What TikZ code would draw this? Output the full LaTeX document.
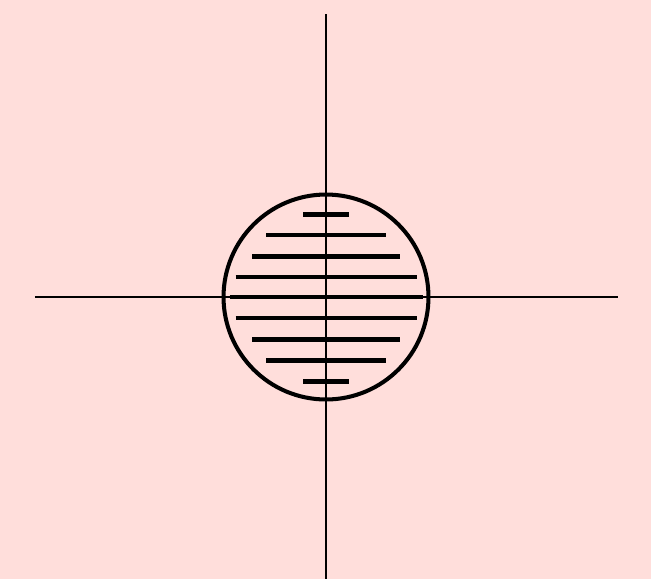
\documentclass[tikz,border=0pt]{standalone}
\usepackage{tikz}
\usepackage{xcolor}
\usetikzlibrary{positioning}
\definecolor{bgpink}{RGB}{255,222,219}

\begin{document}
\begin{tikzpicture}[x=0.02cm, y=0.02cm]
% Background
\fill[bgpink] (-326,-282) rectangle (325,297);
\useasboundingbox (-326,-282) rectangle (325,297);

% Axes
\coordinate (xl) at (-291,0);
\coordinate (xr) at (292,0);
\coordinate (yt) at (0,283);
\coordinate (yb) at (0,-282);
\draw[line width=1.3pt] (xl) -- (xr);
\draw[line width=1.3pt] (yt) -- (yb);

% Lens
\node[draw, circle, line width=2.3pt, minimum size=4.1cm, inner sep=0pt] (lens) at (0,0) {};

% Hatch lines
\foreach \y/\h [count=\i] in {82.7/23, 62/60, 40.7/74, 20/90.5, 0/96.5, -21/90.5, -42.3/74, -63.3/60, -84.3/23} {
  \coordinate (hl\i) at (-\h,\y);
  \coordinate (hr\i) at (\h,\y);
  \draw[line width=2.7pt] (hl\i) -- (hr\i);
}
\end{tikzpicture}
\end{document}
